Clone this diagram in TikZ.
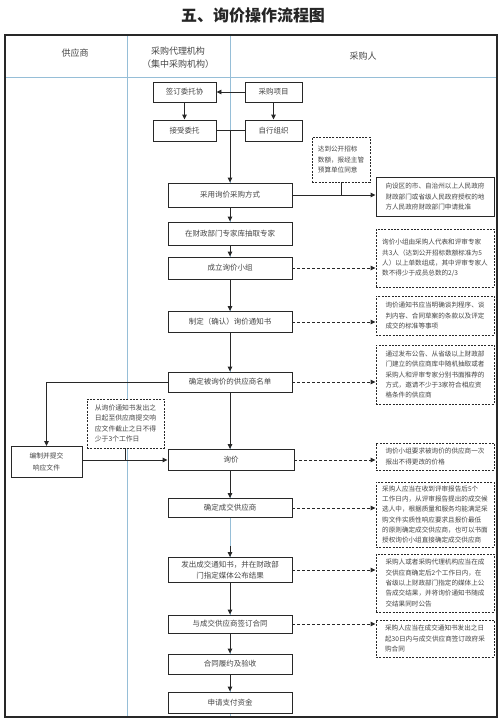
\documentclass[tikz,border=0pt]{standalone}
\usepackage{fontspec}
\setmainfont{Noto Sans CJK SC}
\usetikzlibrary{arrows.meta}
\definecolor{ln}{RGB}{40,40,40}
\definecolor{tx}{RGB}{70,70,70}
\definecolor{bl}{RGB}{150,190,215}
\tikzset{
  box/.style={draw=ln, line width=0.9pt, fill=white, inner sep=0pt, text=tx,
    font=\fontsize{7.5}{11}\selectfont, align=center},
  notebox/.style={draw=ln, dash pattern=on 2pt off 1.3pt, line width=0.9pt, fill=white,
    inner sep=0pt, text=tx, font=\fontsize{6.6}{10.3}\selectfont, align=left},
  solidnote/.style={draw=ln, line width=0.9pt, fill=white,
    inner sep=0pt, text=tx, font=\fontsize{6.6}{10.5}\selectfont, align=left},
  hdr/.style={text=tx, font=\fontsize{9}{13}\selectfont, align=center},
  arr/.style={draw=ln, line width=0.9pt, -{Triangle[length=5pt,width=4.5pt]}},
  darr/.style={arr, dash pattern=on 3pt off 2pt},
  plain/.style={draw=ln, line width=0.9pt},
}
\begin{document}
\begin{tikzpicture}[x=1pt,y=-1pt]
\useasboundingbox (0,0) rectangle (502,724);
\fill[white] (0,0) rectangle (502,724);
% title
\node[font=\fontsize{16}{18}\selectfont\bfseries, text=black!85] (title) at (253,15) {五、询价操作流程图};
% frame and lanes
\draw[bl, line width=0.9pt] (5,77) -- (497,77);
\draw[bl, line width=0.9pt] (127,35) -- (127,717);
\draw[bl, line width=0.9pt] (230,35) -- (230,717);
\draw[ln, line width=1.2pt] (5,35) rectangle (497,717);
\node[hdr] (h1) at (75,53) {供应商};
\node[hdr] (h2) at (178,58) {采购代理机构\\（集中采购机构）};
\node[hdr] (h3) at (363,56) {采购人};
% top boxes
\node[box, minimum width=63pt, minimum height=20pt] (sign) at (184.5,92) {签订委托协};
\node[box, minimum width=57pt, minimum height=20pt] (proj) at (273.5,92) {采购项目};
\node[box, minimum width=63pt, minimum height=21pt] (acc) at (184.5,130.5) {接受委托};
\node[box, minimum width=57pt, minimum height=21pt] (self) at (273.5,130.5) {自行组织};
% main column
\node[box, minimum width=124pt, minimum height=24pt] (n1) at (230,195) {采用询价采购方式};
\node[box, minimum width=124pt, minimum height=23pt] (n2) at (230,233.5) {在财政部门专家库抽取专家};
\node[box, minimum width=124pt, minimum height=22pt] (n3) at (230,268) {成立询价小组};
\node[box, minimum width=124pt, minimum height=21pt] (n4) at (230,322) {制定（确认）询价通知书};
\node[box, minimum width=124pt, minimum height=20pt] (n5) at (230,382) {确定被询价的供应商名单};
\node[box, minimum width=126pt, minimum height=21pt] (n6) at (231,460) {询价};
\node[box, minimum width=124pt, minimum height=19pt] (n7) at (230,508) {确定成交供应商};
\node[box, minimum width=124pt, minimum height=25pt] (n8) at (230,570) {发出成交通知书，并在财政部\\门指定媒体公布结果};
\node[box, minimum width=124pt, minimum height=18pt] (n9) at (230,624) {与成交供应商签订合同};
\node[box, minimum width=124pt, minimum height=20pt] (n10) at (230,664) {合同履约及验收};
\node[box, minimum width=124pt, minimum height=21pt] (n11) at (230,702.5) {申请支付资金};
% notes
\node[notebox, minimum width=58pt, minimum height=45pt] (tn) at (341,159.5) {达到公开招标\\数额，报经主管\\预算单位同意};
\node[solidnote, minimum width=118pt, minimum height=39pt] (rb) at (435,196.5) {向设区的市、自治州以上人民政府\\财政部门或省级人民政府授权的地\\方人民政府财政部门申请批准};
\node[notebox, minimum width=118pt, minimum height=58pt] (b1) at (435,258) {询价小组由采购人代表和评审专家\\共3人（达到公开招标数额标准为5\\人）以上单数组成，其中评审专家人\\数不得少于成员总数的2/3};
\node[notebox, minimum width=118pt, minimum height=39pt] (b2) at (435,315.5) {询价通知书应当明确谈判程序、谈\\判内容、合同草案的条款以及评定\\成交的标准等事项};
\node[notebox, minimum width=118pt, minimum height=59pt] (b3) at (435,374.5) {通过发布公告、从省级以上财政部\\门建立的供应商库中随机抽取或者\\采购人和评审专家分别书面推荐的\\方式，邀请不少于3家符合相应资\\格条件的供应商};
\node[notebox, minimum width=118pt, minimum height=27pt] (b4) at (435,456.5) {询价小组要求被询价的供应商一次\\报出不得更改的价格};
\node[notebox, minimum width=118pt, minimum height=65pt] (b5) at (435,514.5) {采购人应当在收到评审报告后5个\\工作日内，从评审报告提出的成交候\\选人中，根据质量和服务均能满足采\\购文件实质性响应要求且报价最低\\的原则确定成交供应商，也可以书面\\授权询价小组直接确定成交供应商};
\node[notebox, minimum width=118pt, minimum height=58pt] (b6) at (435,583) {采购人或者采购代理机构应当在成\\交供应商确定后2个工作日内，在\\省级以上财政部门指定的媒体上公\\告成交结果，并将询价通知书随成\\交结果同时公告};
\node[notebox, minimum width=118pt, minimum height=37pt] (b7) at (435,638.5) {采购人应当在成交通知书发出之日\\起30日内与成交供应商签订政府采\\购合同};
% left side
\node[box, minimum width=71pt, minimum height=31pt, font=\fontsize{6.8}{12}\selectfont] (bz) at (46.5,462) {编制并提交\\响应文件};
\node[notebox, minimum width=77pt, minimum height=49pt, font=\fontsize{6.8}{10.5}\selectfont] (lnote) at (125.5,423.5) {从询价通知书发出之\\日起至供应商提交响\\应文件截止之日不得\\少于3个工作日};
% connectors top
\draw[arr] (proj.west) -- (sign.east);
\draw[arr] (sign.south) -- (acc.north);
\draw[arr] (proj.south) -- (self.north);
\draw[plain] (acc.east) -- (self.west);
\draw[arr] (acc.east -| n1.north) -- (n1.north);
\draw[arr] (n1.east) -- (rb.west |- n1.east);
\draw[plain] (tn.south) -- (tn.south |- n1.east);
% main chain
\draw[arr] (n1.south) -- (n2.north);
\draw[arr] (n2.south) -- (n3.north);
\draw[arr] (n3.south) -- (n4.north);
\draw[arr] (n4.south) -- (n5.north);
\draw[arr] (n5.south) -- (n5.south |- n6.north);
\draw[arr] (n5.south |- n6.south) -- (n7.north);
\draw[arr] (n7.south) -- (n8.north);
\draw[bl, line width=1pt, shorten >=11pt] (n7.south) -- (n8.north);
\draw[arr] (n8.south) -- (n9.north);
\draw[arr] (n9.south) -- (n10.north);
\draw[arr] (n10.south) -- (n11.north);
% dashed to notes
\draw[darr] (n3.east) -- (b1.west |- n3.east);
\draw[darr] (n4.east) -- (b2.west |- n4.east);
\draw[darr] (n5.east) -- (b3.west |- n5.east);
\draw[darr] (n6.east) -- (b4.west |- n6.east);
\draw[darr] (n7.east) -- (b5.west |- n7.east);
\draw[darr] (n8.east) -- (b6.west |- n8.east);
\draw[darr] (n9.east) -- (b7.west |- n9.east);
% left connectors
\draw[arr] (n5.west) -| (bz.north);
\draw[arr] (bz.east |- n6.west) -- (n6.west);
\draw[plain] (lnote.south) -- (lnote.south |- n6.west);
\end{tikzpicture}
\end{document}
